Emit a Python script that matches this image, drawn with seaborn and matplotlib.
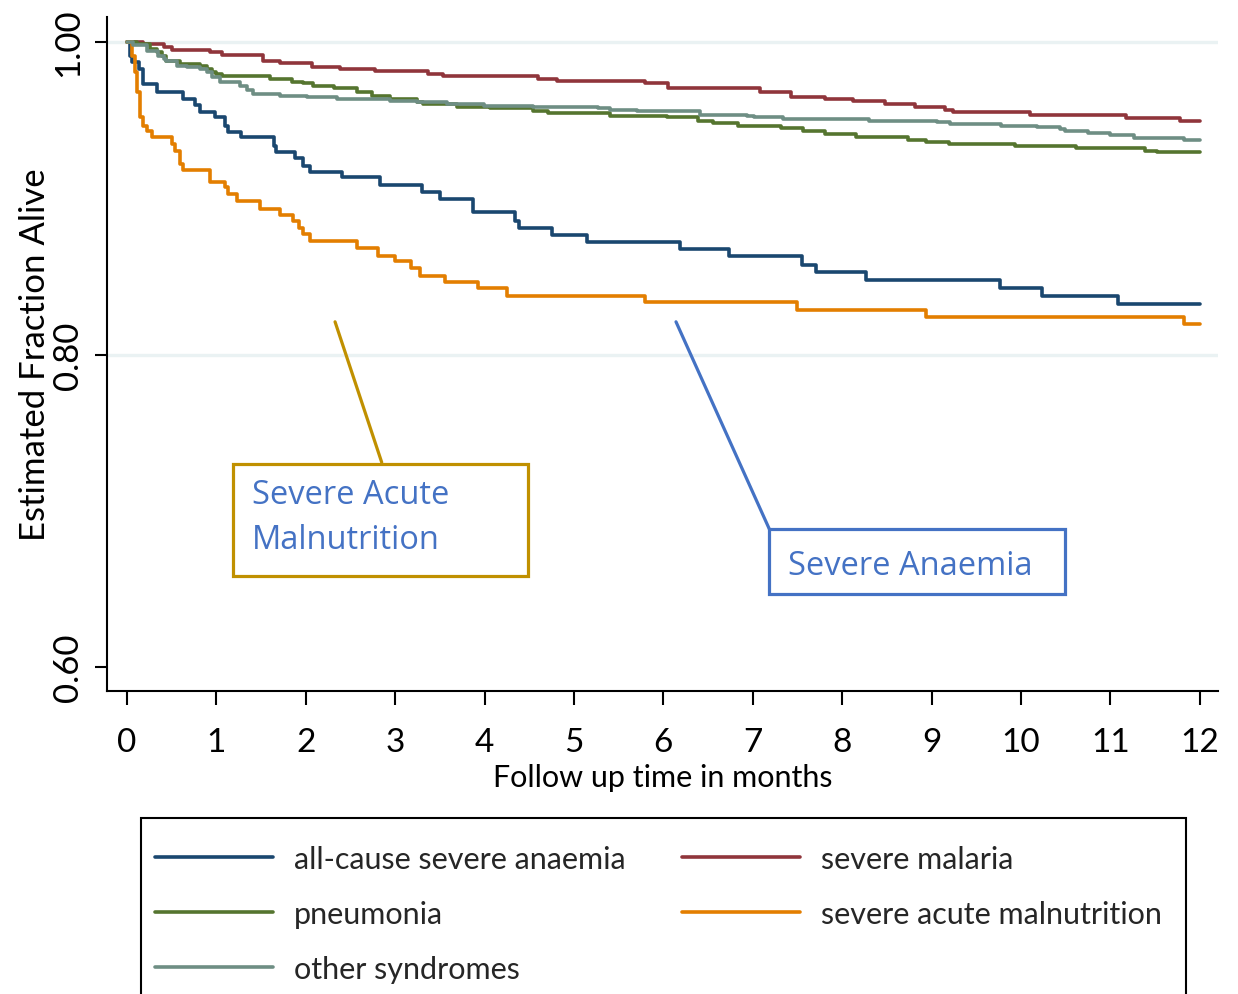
import matplotlib
matplotlib.use("Agg")
import matplotlib.pyplot as plt
from matplotlib.patches import Rectangle
from matplotlib.lines import Line2D
import seaborn as sns
import pandas as pd

# ---------------- data (Kaplan-Meier steps) ----------------
groups = ["all-cause severe anaemia", "severe malaria", "pneumonia",
          "severe acute malnutrition", "other syndromes"]

sa_time = [0, 0.03, 0.06, 0.13, 0.18, 0.33, 0.63, 0.76, 0.82, 0.98,
           1.10, 1.13, 1.28, 1.64, 1.67, 1.88, 1.97, 2.05, 2.40, 2.83,
           3.30, 3.50, 3.87, 4.34, 4.38, 4.75, 5.14, 6.19, 6.73, 7.55,
           7.71, 8.27, 9.77, 10.23, 11.09, 12.0]
sa_surv = [1.0, 0.991, 0.987, 0.983, 0.973, 0.968, 0.9635, 0.9597, 0.9554, 0.9518,
           0.9465, 0.9422, 0.9390, 0.9337, 0.9298, 0.9256, 0.9209, 0.9170, 0.9134, 0.9087,
           0.9042, 0.8996, 0.8910, 0.8857, 0.8810, 0.8767, 0.8722, 0.8676, 0.8629, 0.8575,
           0.8530, 0.8477, 0.8424, 0.8373, 0.8324, 0.8324]

sm_time = [0, 0.18, 0.41, 0.50, 0.93, 1.06, 1.52, 1.71, 2.07, 2.38,
           2.77, 3.37, 3.54, 4.60, 4.81, 5.79, 6.05, 7.08, 7.43, 7.81,
           8.12, 8.48, 8.81, 9.15, 9.24, 10.10, 11.18, 11.78, 12.0]
sm_surv = [1.0, 0.9987, 0.997, 0.9949, 0.9934, 0.9919, 0.9880, 0.9864, 0.9842, 0.9827,
           0.9816, 0.9795, 0.9781, 0.9763, 0.9749, 0.9736, 0.9704, 0.9678, 0.9650, 0.9635,
           0.9621, 0.9603, 0.9582, 0.9567, 0.9550, 0.9533, 0.9512, 0.9496, 0.9496]

pn_time = [0, 0.11, 0.26, 0.33, 0.39, 0.44, 0.59, 0.82, 0.89, 0.95,
           1.00, 1.06, 1.60, 1.84, 1.97, 2.08, 2.31, 2.57, 2.74, 2.94,
           3.24, 3.31, 3.69, 4.06, 4.54, 4.71, 5.40, 6.04, 6.39, 6.56,
           6.84, 7.32, 7.56, 7.81, 8.16, 8.74, 8.94, 9.19, 9.93, 10.62,
           11.39, 11.52, 12.0]
pn_surv = [1.0, 0.9987, 0.9955, 0.9934, 0.9908, 0.9880, 0.9859, 0.9848, 0.9827, 0.9810,
           0.9795, 0.9781, 0.9763, 0.9746, 0.9738, 0.9720, 0.9706, 0.9678, 0.9653, 0.9635,
           0.9618, 0.9603, 0.9586, 0.9576, 0.9561, 0.9544, 0.9529, 0.9518, 0.9496, 0.9482,
           0.9465, 0.9450, 0.9429, 0.9411, 0.9390, 0.9375, 0.9358, 0.9347, 0.9333, 0.9320,
           0.9305, 0.9294, 0.9294]

sam_time = [0, 0.06, 0.09, 0.11, 0.15, 0.18, 0.22, 0.28, 0.50, 0.54,
            0.59, 0.63, 0.93, 1.10, 1.13, 1.23, 1.49, 1.71, 1.86, 1.92,
            1.97, 2.05, 2.57, 2.81, 3.00, 3.18, 3.28, 3.56, 3.93, 4.25,
            5.79, 7.49, 8.94, 11.82, 12.0]
sam_surv = [1.0, 0.9912, 0.9806, 0.9678, 0.9518, 0.9465, 0.9433, 0.9390, 0.9347, 0.9305,
            0.9219, 0.9183, 0.9102, 0.9070, 0.9027, 0.8981, 0.8932, 0.8895, 0.8857, 0.8808,
            0.8772, 0.8729, 0.8680, 0.8633, 0.8601, 0.8552, 0.8505, 0.8466, 0.8424, 0.8377,
            0.8338, 0.8285, 0.8243, 0.8196, 0.8196]

ot_time = [0, 0.07, 0.22, 0.35, 0.41, 0.44, 0.56, 0.67, 0.82, 0.89,
           0.95, 1.04, 1.26, 1.34, 1.41, 1.71, 2.01, 2.35, 2.94, 3.24,
           3.58, 3.99, 4.54, 5.27, 5.40, 5.70, 6.41, 6.93, 7.01, 7.34,
           8.30, 9.06, 9.21, 9.78, 10.18, 10.44, 10.49, 10.75, 11.00, 11.26,
           11.82, 12.0]
ot_surv = [1.0, 0.998, 0.9944, 0.9912, 0.9891, 0.9880, 0.9848, 0.9838, 0.9827, 0.9806,
           0.9774, 0.9742, 0.9720, 0.9695, 0.9667, 0.9656, 0.9646, 0.9635, 0.9624, 0.9614,
           0.9603, 0.9592, 0.9582, 0.9576, 0.9567, 0.9559, 0.9535, 0.9527, 0.9518, 0.9507,
           0.9496, 0.9486, 0.9475, 0.9465, 0.9458, 0.9443, 0.9429, 0.9416, 0.9405, 0.9386,
           0.9375, 0.9375]

x_ticks = list(range(0, 13))
y_ticks = [0.60, 0.80, 1.00]
y_ticklabels = ["0.60", "0.80", "1.00"]

colors = {"all-cause severe anaemia": "#1a476f",
          "severe malaria": "#90353b",
          "pneumonia": "#55752f",
          "severe acute malnutrition": "#e37e00",
          "other syndromes": "#6e8e84"}

series = {"all-cause severe anaemia": (sa_time, sa_surv),
          "severe malaria": (sm_time, sm_surv),
          "pneumonia": (pn_time, pn_surv),
          "severe acute malnutrition": (sam_time, sam_surv),
          "other syndromes": (ot_time, ot_surv)}

rows = []
for g in groups:
    t, s = series[g]
    for ti, si in zip(t, s):
        rows.append({"time": ti, "surv": si, "group": g})
df = pd.DataFrame(rows)

# ---------------- fonts ----------------
sns.set_theme(style="white")
main_font = "Lato"
annot_font = "Open Sans"
plt.rcParams["font.family"] = [main_font, "DejaVu Sans"]

W, H = 1238, 995
fig = plt.figure(figsize=(W / 100, H / 100), dpi=100)
ax = fig.add_axes([107 / W, 1 - 692 / H, (1218 - 107) / W, (692 - 18) / H])

LW = 2.6
sns.lineplot(data=df, x="time", y="surv", hue="group", hue_order=groups,
             palette=colors, drawstyle="steps-post", estimator=None, sort=False,
             linewidth=LW, legend=False, ax=ax, zorder=3)
handles = {g: Line2D([0], [0], color=colors[g], lw=LW) for g in groups}

for yv in [1.00, 0.80]:
    ax.axhline(yv, color="#eaf2f3", lw=2.4, zorder=1)

ax.set_xlim(-0.224, 12.204)
ax.set_ylim(0.5848, 1.016)
ax.set_xticks(x_ticks)
ax.set_xticklabels([str(v) for v in x_ticks], fontsize=24)
ax.set_yticks(y_ticks)
ax.set_yticklabels(y_ticklabels, fontsize=25, rotation=90, va="center")
ax.tick_params(axis="x", length=10, width=1.5, pad=16, colors="black", direction="out", bottom=True)
ax.tick_params(axis="y", length=8.6, width=1.5, pad=8, colors="black", direction="out", left=True)

for side in ["top", "right"]:
    ax.spines[side].set_visible(False)
for side in ["left", "bottom"]:
    ax.spines[side].set_color("black")
    ax.spines[side].set_linewidth(1.5)

ax.set_xlabel("Follow up time in months", fontsize=22, labelpad=4, color="black")
ax.set_ylabel("Estimated Fraction Alive", fontsize=25, labelpad=1, color="black")

# ---------------- annotations ----------------
gold = "#c09000"
blue = "#4472c4"
ax.plot([2.327, 2.849], [0.8210, 0.7311], color=gold, lw=2.3, zorder=4)
ax.add_patch(Rectangle((1.182, 0.6585), 4.489 - 1.182, 0.7300 - 0.6585,
                       fill=False, ec=gold, lw=2.3, zorder=4))
ax.text(1.398, 0.7050, "Severe Acute", color=blue, fontfamily=annot_font,
        fontsize=23.5, va="baseline", ha="left")
ax.text(1.398, 0.6766, "Malnutrition", color=blue, fontfamily=annot_font,
        fontsize=23.5, va="baseline", ha="left")

ax.plot([6.141, 7.185], [0.8210, 0.6884], color=blue, lw=2.3, zorder=4)
ax.add_patch(Rectangle((7.185, 0.6468), 10.492 - 7.185, 0.6884 - 0.6468,
                       fill=False, ec=blue, lw=2.3, zorder=4))
ax.text(7.394, 0.6596, "Severe Anaemia", color=blue, fontfamily=annot_font,
        fontsize=23.5, va="baseline", ha="left")

# ---------------- legend ----------------
order = ["all-cause severe anaemia", "pneumonia", "other syndromes",
         "severe malaria", "severe acute malnutrition"]
leg = fig.legend([handles[g] for g in order], order, ncol=2, loc="upper left",
                 bbox_to_anchor=(155 / W, 1 - 846 / H), frameon=False,
                 prop={"family": main_font, "size": 22}, handlelength=3.86,
                 handletextpad=0.69, columnspacing=1.85, labelspacing=0.88,
                 borderpad=0, borderaxespad=0)
fig.add_artist(Rectangle((141 / W, -0.02), (1186 - 141) / W, 1 - 819 / H + 0.02,
                         transform=fig.transFigure, fill=False, ec="black", lw=1.5))

fig.savefig("out.png", dpi=100, facecolor="white")
